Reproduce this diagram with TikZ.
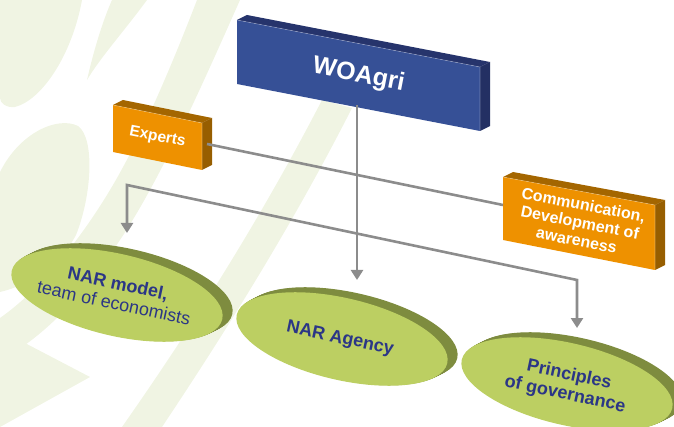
\documentclass[tikz,border=0pt]{standalone}
\usepackage{fontspec}
\setmainfont{Liberation Sans}
\usetikzlibrary{arrows.meta,calc}
\definecolor{bgleaf}{HTML}{F0F4E3}
\definecolor{woafront}{HTML}{365096}
\definecolor{woadark}{HTML}{26346C}
\definecolor{orfront}{HTML}{EE9100}
\definecolor{ordark}{HTML}{A46600}
\definecolor{ellface}{HTML}{BCCF62}
\definecolor{ellrim}{HTML}{7E8C3F}
\definecolor{navy}{HTML}{2B3686}
\definecolor{conngray}{HTML}{8C8C8C}
\newcommand{\threedbox}[6]{%
  \coordinate (#1tl) at #2; \coordinate (#1tr) at #3;
  \coordinate (#1br) at #4; \coordinate (#1bl) at #5;
  \fill[#6dark] (#1tl) -- (#1tr) -- ($(#1tr)+(10,-5)$) -- ($(#1tl)+(10,-5)$) -- cycle;
  \fill[#6dark!92!black] (#1tr) -- ($(#1tr)+(10,-5)$) -- ($(#1br)+(10,-5)$) -- (#1br) -- cycle;
  \fill[#6front] (#1tl) -- (#1tr) -- (#1br) -- (#1bl) -- cycle;
  \draw[white, opacity=0.3, line width=0.6pt] (#1tl) -- (#1tr) -- (#1br);
}
\newcommand{\disc}[2]{%
  \foreach \t in {10,9,...,1} {
    \fill[ellrim, shift={(#1+\t,#2-0.5*\t)}, rotate=-13] (0,0) ellipse [x radius=108, y radius=41];
  }
  \fill[ellface, shift={(#1,#2)}, rotate=-13] (0,0) ellipse [x radius=108, y radius=41];
}
\begin{document}
\begin{tikzpicture}[x=1pt,y=-1pt,
  boxtext/.style={text=white, font=\bfseries, align=center, inner sep=0pt},
  elltext/.style={text=navy, align=center, inner sep=0pt, font=\fontsize{18}{20}\selectfont},
  conn/.style={draw=conngray, line width=2.6pt},
  tip/.tip={Triangle[width=12pt,length=10pt]}]
\useasboundingbox (0,0) rectangle (674,427);
\clip (0,0) rectangle (674,427);
% background leaves
\fill[bgleaf] (0,0) -- (82,0) .. controls (72,55) and (42,100) .. (15,107) .. controls (6,108) and (0,103) .. (0,98) -- cycle;
\fill[bgleaf] (87,80) .. controls (95,45) and (104,18) .. (112,0) -- (147,0) .. controls (125,30) and (100,58) .. (87,80) -- cycle;
\fill[bgleaf] (0,172) .. controls (20,132) and (58,116) .. (78,126) .. controls (95,138) and (92,195) .. (76,235) .. controls (60,265) and (30,285) .. (0,292) -- cycle;
\fill[bgleaf] (197,0) -- (240,0) .. controls (200,90) and (160,180) .. (120,240) .. controls (80,300) and (40,340) .. (0,360) -- (0,318) .. controls (40,290) and (80,240) .. (110,190) .. controls (140,140) and (170,70) .. (197,0) -- cycle;
\fill[bgleaf] (0,330) -- (90,377) -- (0,427) -- cycle;
\fill[bgleaf] (122,427) .. controls (190,330) and (260,220) .. (322,100) -- (352,108) .. controls (290,230) and (220,340) .. (162,427) -- cycle;
% boxes
\threedbox{w}{(237,20)}{(480,67)}{(480,131)}{(237,84)}{woa}
\threedbox{e}{(113,105)}{(202,123)}{(202,170)}{(113,152)}{or}
\threedbox{c}{(503,177)}{(655,205)}{(655,270)}{(503,240)}{or}
\node[boxtext, rotate=-11, font=\fontsize{25}{28}\selectfont\bfseries] (woa) at ($(wtl)!0.5!(wbr)$) {WOAgri};
\node[boxtext, rotate=-11, font=\fontsize{15.5}{18}\selectfont\bfseries] (exp) at ($(etl)!0.5!(ebr)$) {Experts};
\node[boxtext, rotate=-11, font=\fontsize{16}{18}\selectfont\bfseries] (com) at ($(ctl)!0.5!(cbr)+(1,-1)$) {Communication,\\Development of\\awareness};
% discs
\disc{117}{295}
\disc{342}{339}
\disc{567}{384}
\node[elltext, rotate=-12] (nar) at (116,293) {\textbf{NAR model,}\\team of economists};
\node[elltext, rotate=-12, font=\fontsize{18}{20}\selectfont\bfseries] (agency) at (340,339) {NAR Agency};
\node[elltext, rotate=-12, font=\fontsize{18}{20}\selectfont\bfseries] (gov) at (567,385) {Principles\\of governance};
% connector points
\coordinate (woab) at (357,105);
\coordinate (agencyt) at (357,280);
\coordinate (expr) at (207,144);
\coordinate (coml) at (503,205);
\coordinate (nart) at (127,233);
\coordinate (k1) at (127,185);
\coordinate (k2) at (577,280);
\coordinate (govt) at (577,328);
% connectors
\draw[conn, -tip] (woab) -- (agencyt);
\draw[conn] (expr) -- (coml);
\draw[conn, tip-tip] (nart) -- (k1) -- (k2) -- (govt);
\end{tikzpicture}
\end{document}
